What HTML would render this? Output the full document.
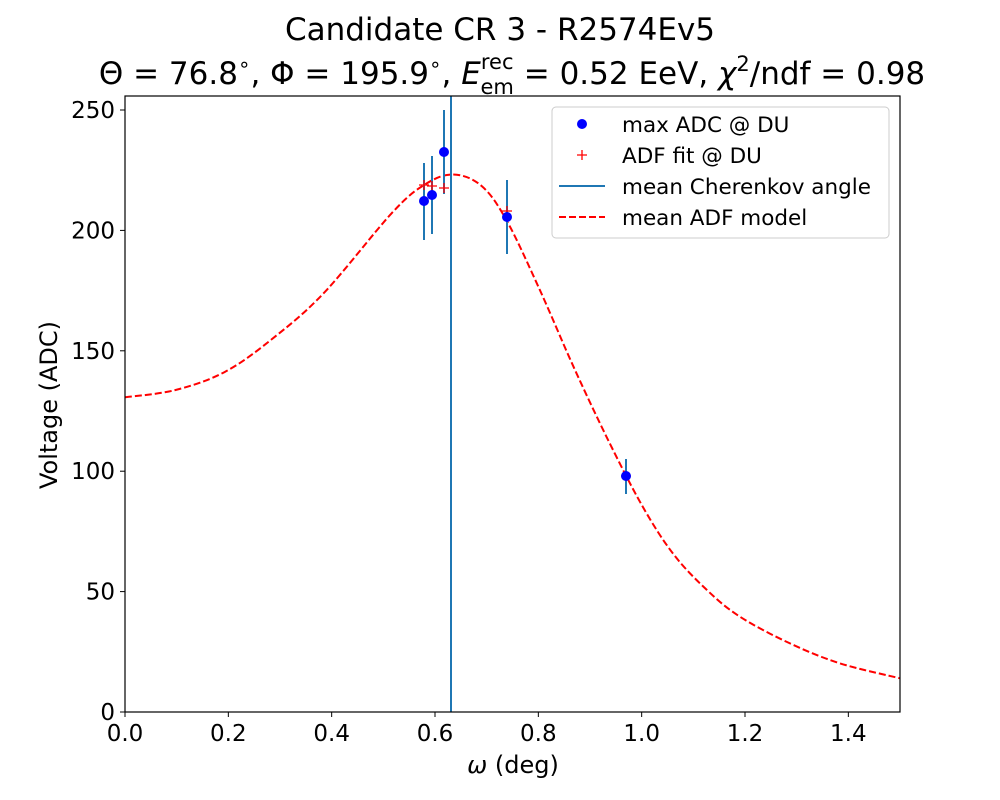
<!DOCTYPE html>
<html><head><meta charset="utf-8"><style>
body{margin:0;background:#fff}
svg{display:block;font-family:"DejaVu Sans","Liberation Sans",sans-serif}
</style></head><body>
<svg id="s" width="1000" height="800" xmlns="http://www.w3.org/2000/svg">
<rect width="1000" height="800" fill="#fff"/>
<text x="500" y="40" font-size="31" text-anchor="middle">Candidate CR 3 - R2574Ev5</text>
<text x="512" y="84" font-size="31" text-anchor="middle">Θ = 76.8<tspan font-size="20" dy="-13">∘</tspan><tspan dy="13">, Φ = 195.9</tspan><tspan font-size="20" dy="-13">∘</tspan><tspan dy="13">, </tspan><tspan font-style="italic">E</tspan><tspan font-size="21" dy="-15">rec</tspan><tspan font-size="21" dx="-33" dy="25">em</tspan><tspan dy="-10"> = 0.52 EeV, </tspan><tspan font-style="italic">χ</tspan><tspan font-size="21" dy="-13">2</tspan><tspan dy="13">/ndf = 0.98</tspan></text>
<g id="plot"></g>
<rect x="125" y="96" width="775" height="616" fill="none" stroke="#000" stroke-width="1.2"/>
<g font-size="23" text-anchor="middle" id="xt"></g>
<g font-size="23" text-anchor="end" id="yt"></g>
<text x="513" y="773" font-size="24" text-anchor="middle"><tspan font-style="italic">ω</tspan> (deg)</text>
<text transform="translate(57,405) rotate(-90)" font-size="24" text-anchor="middle">Voltage (ADC)</text>
<rect x="552" y="107" width="337" height="131" rx="4" fill="#fff" fill-opacity="0.8" stroke="#ccc"/>
<circle cx="582" cy="124" r="5" fill="#0000ff"/>
<path d="M577 155h10M582 150v10" stroke="#f00" stroke-width="1.3"/>
<line x1="559" y1="186" x2="605" y2="186" stroke="#1f77b4" stroke-width="2"/>
<line x1="559" y1="217" x2="605" y2="217" stroke="#f00" stroke-width="2" stroke-dasharray="7,3"/>
<g font-size="21.5"><text x="622" y="132">max ADC @ DU</text><text x="622" y="163">ADF fit @ DU</text><text x="622" y="194">mean Cherenkov angle</text><text x="622" y="225">mean ADF model</text></g>
</svg>
<script>
const X=w=>125+w*516.67,Y=v=>712-v*2.408;
const ns="http://www.w3.org/2000/svg";
function el(t,a,p){const e=document.createElementNS(ns,t);for(const k in a)e.setAttribute(k,a[k]);(p||document.getElementById('plot')).appendChild(e);return e}
const xt=document.getElementById('xt'),yt=document.getElementById('yt'),s=document.getElementById('s');
for(let i=0;i<=7;i++){const w=i*0.2,x=X(w);el('line',{x1:x,x2:x,y1:712,y2:717,stroke:'#000'},s);const t=el('text',{x:x,y:741},xt);t.textContent=w.toFixed(1)}
for(let v=0;v<=250;v+=50){const y=Y(v);el('line',{x1:120,x2:125,y1:y,y2:y,stroke:'#000'},s);const t=el('text',{x:115,y:y+8},yt);t.textContent=v}
const P=[[0,130.7],[0.097,133.7],[0.194,141.3],[0.29,155.8],[0.387,174.5],[0.516,207.1],[0.58,219],[0.635,223.2],[0.69,218.5],[0.739,204],[0.803,175.2],[0.868,143.4],[0.932,114.3],[1.0,86],[1.061,65.7],[1.126,50.7],[1.19,39.6],[1.287,28.5],[1.384,20.2],[1.5,14]].map(p=>[X(p[0]),Y(p[1])]);
let d='M'+P[0][0].toFixed(1)+' '+P[0][1].toFixed(1);
for(let i=0;i<P.length-1;i++){const p0=P[Math.max(0,i-1)],p1=P[i],p2=P[i+1],p3=P[Math.min(P.length-1,i+2)];
const c1=[p1[0]+(p2[0]-p0[0])/6,p1[1]+(p2[1]-p0[1])/6],c2=[p2[0]-(p3[0]-p1[0])/6,p2[1]-(p3[1]-p1[1])/6];
d+=`C${c1[0].toFixed(1)} ${c1[1].toFixed(1)} ${c2[0].toFixed(1)} ${c2[1].toFixed(1)} ${p2[0].toFixed(1)} ${p2[1].toFixed(1)}`}
el('path',{d:d,fill:'none',stroke:'#f00','stroke-width':2,'stroke-dasharray':'7,3'});
el('line',{x1:451,x2:451,y1:96,y2:712,stroke:'#1f77b4','stroke-width':2});
const pts=[[424,201,163,240,185],[432,195,156,234,186],[444,152,110,194,188],[507,217,180,254,211],[626,476,459,494,476]];
for(const p of pts){el('line',{x1:p[0],x2:p[0],y1:p[2],y2:p[3],stroke:'#1f77b4','stroke-width':2});}
for(const p of pts){el('path',{d:`M${p[0]-5} ${p[4]}h10M${p[0]} ${p[4]-5}v10`,stroke:'#f00','stroke-width':1.3});el('circle',{cx:p[0],cy:p[1],r:5,fill:'#0000ff'});}
</script>
</body></html>
